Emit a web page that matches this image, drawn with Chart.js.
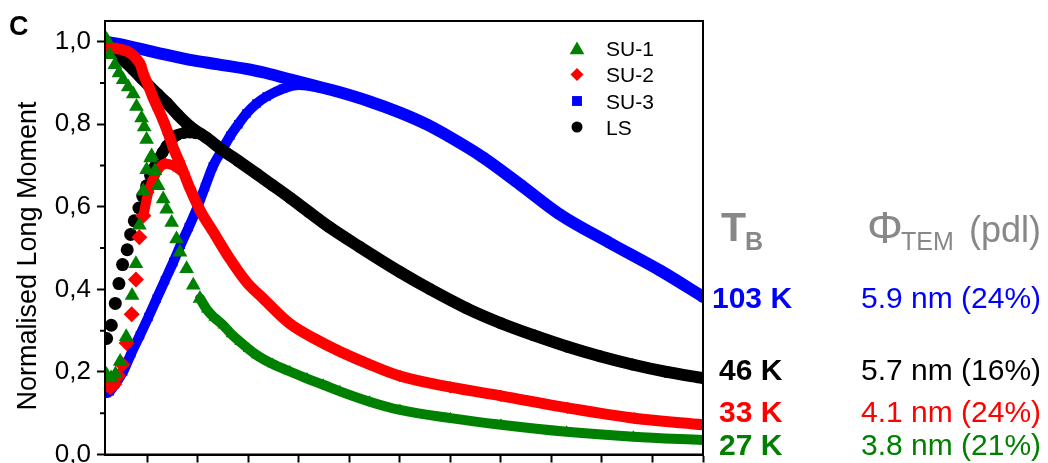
<!DOCTYPE html>
<html><head><meta charset="utf-8">
<script src="https://cdn.jsdelivr.net/npm/chart.js@4.4.1/dist/chart.umd.min.js"></script>
<style>
html,body{margin:0;padding:0;background:#fff;overflow:hidden;}
#wrap{position:relative;width:1048px;height:463px;overflow:hidden;}
canvas{position:absolute;left:0;top:0;}
.t{position:absolute;white-space:nowrap;line-height:1;font-family:"Liberation Sans",Arial,sans-serif;}
</style></head><body>
<div id="wrap"><canvas id="c" width="1048" height="463"></canvas></div>
<script>
// ---------------- data (T in K, normalised moment) ----------------
const seriesNames = ['SU-1', 'SU-2', 'SU-3', 'LS'];
const blockingT = ['103 K', '46 K', '33 K', '27 K'];
const temSizes = ['5.9 nm (24%)', '5.7 nm (16%)', '4.1 nm (24%)', '3.8 nm (21%)'];
const xTicks = [25, 50, 75, 100, 125, 150, 175, 200, 225, 250, 275, 300];
const yTicks = [0, 0.2, 0.4, 0.6, 0.8, 1.0];
const yMinorTicks = [0.1, 0.3, 0.5, 0.7, 0.9];

// LS (black circles)
const lsZfcLowT = [4.8, 7.1, 9.1, 10.9, 12.7, 15.0, 16.7, 18.5, 20.8, 22.7, 24.6, 26.6];
const lsZfcLowM = [0.281, 0.313, 0.366, 0.414, 0.460, 0.496, 0.533, 0.566, 0.597, 0.626, 0.651, 0.676];
const lsZfcT = [26.6, 28.6, 30.5, 32.5, 34.5, 37.0, 39.5, 43.0, 46.0, 49.0, 51.5];
const lsZfcM = [0.676, 0.697, 0.716, 0.732, 0.747, 0.762, 0.773, 0.779, 0.780, 0.778, 0.776];
const lsFcT = [4, 6.4, 10, 14, 18, 22, 26, 30, 34.5, 40, 46, 54, 62.5, 70, 79, 87, 95.5, 105, 115, 130, 150, 165, 183, 200, 216, 233, 249, 265, 282, 300];
const lsFcM = [1.000, 0.988, 0.970, 0.951, 0.932, 0.912, 0.892, 0.873, 0.852, 0.823, 0.795, 0.768, 0.736, 0.711, 0.680, 0.652, 0.622, 0.587, 0.551, 0.503, 0.442, 0.400, 0.354, 0.318, 0.289, 0.261, 0.238, 0.218, 0.200, 0.185];

// SU-2 (red diamonds)
const su2ZfcLowT = [4.8, 6.6, 8.6, 10.6, 12.6, 14.7, 17.2, 19.3, 21.0, 23.0];
const su2ZfcLowM = [0.170, 0.163, 0.170, 0.190, 0.218, 0.270, 0.340, 0.424, 0.526, 0.578];
const su2ZfcT = [23.0, 25.4, 27.9, 30.4, 33.7, 37.8, 42.0];
const su2ZfcM = [0.578, 0.635, 0.667, 0.691, 0.705, 0.700, 0.686];
const su2FcT = [4, 6.4, 10, 13, 15.5, 18, 20, 21.5, 23, 25.5, 28, 30.5, 33, 35.5, 38, 40.5, 43, 46, 51, 57.6, 65.8, 74, 82.3, 95.5, 108, 120, 135, 150, 175, 200, 233, 266, 300];
const su2FcM = [1.000, 0.988, 0.983, 0.980, 0.975, 0.967, 0.956, 0.945, 0.922, 0.893, 0.862, 0.835, 0.807, 0.775, 0.740, 0.712, 0.682, 0.645, 0.592, 0.539, 0.474, 0.418, 0.378, 0.317, 0.280, 0.250, 0.218, 0.190, 0.163, 0.142, 0.113, 0.088, 0.072];

// SU-1 (green triangles)
const su1ZfcLowT = [4.8, 7.0, 9.2, 11.5, 14.5, 17.4, 19.3, 21.0, 22.9, 24.6, 26.6];
const su1ZfcLowM = [0.193, 0.185, 0.195, 0.225, 0.285, 0.385, 0.462, 0.555, 0.638, 0.690, 0.718];
const su1FcLowT = [4.8, 6.4, 8.9, 10.9, 13.0, 15.5, 18.0, 19.6, 22.1, 23.4, 24.6, 27.1, 28.7, 30.3, 32.8, 34.5, 37.0, 39.4, 41.1, 44.4, 47.7, 51.0];
const su1FcLowM = [1.005, 0.968, 0.944, 0.924, 0.908, 0.890, 0.873, 0.843, 0.815, 0.793, 0.763, 0.723, 0.687, 0.651, 0.619, 0.594, 0.562, 0.522, 0.490, 0.450, 0.410, 0.378];
const su1FcT = [51.0, 54.3, 58.0, 62.5, 66.5, 70.8, 75.0, 79.0, 87.0, 95.5, 104, 112, 120.3, 135, 150, 175, 200, 232.5, 265.5, 300];
const su1FcM = [0.378, 0.352, 0.332, 0.313, 0.292, 0.273, 0.256, 0.241, 0.219, 0.201, 0.184, 0.169, 0.153, 0.128, 0.108, 0.088, 0.072, 0.055, 0.043, 0.035];

// SU-3 (blue squares)
const su3ZfcT = [4.8, 6.4, 9.0, 13.0, 17.0, 21.3, 25.5, 29.6, 33.7, 37.8, 41.5, 45.5, 49.4, 53.5, 57.4, 62.0, 66.0, 70.0, 74.0, 79.0, 84.0, 92.0, 100.0, 108.0];
const su3ZfcM = [0.149, 0.153, 0.170, 0.201, 0.245, 0.289, 0.333, 0.378, 0.422, 0.466, 0.508, 0.551, 0.595, 0.648, 0.698, 0.738, 0.772, 0.800, 0.826, 0.850, 0.867, 0.886, 0.895, 0.891];
const su3FcT = [4, 15, 30, 46, 60, 76, 86, 96, 108, 119, 135, 150, 163, 175, 191, 210, 229, 254, 279, 300];
const su3FcM = [1.000, 0.990, 0.973, 0.956, 0.945, 0.932, 0.921, 0.908, 0.893, 0.879, 0.855, 0.828, 0.800, 0.768, 0.720, 0.652, 0.582, 0.512, 0.445, 0.382];

// ---------------- styling ----------------
const GREEN = '#008000', RED = '#ff0000', BLUE = '#0000ff', BLACK = '#000000', GRAY = '#888888';
const FONT = '"Liberation Sans", Arial, sans-serif';
Chart.defaults.font.family = FONT;

function pts(T, M) { return T.map((t, i) => ({ x: t, y: M[i] })); }
function series(T, M, color, style, r, line, order) {
  return {
    type: 'line',
    data: pts(T, M), showLine: line > 0, borderColor: color, backgroundColor: color,
    borderWidth: line, pointStyle: style, pointRadius: r, pointHoverRadius: r,
    pointBorderWidth: 0, pointBackgroundColor: color, pointBorderColor: color,
    cubicInterpolationMode: 'monotone', borderCapStyle: 'round', borderJoinStyle: 'round',
    order: order, clip: 0, fill: false
  };
}

const datasets = [
  series(su1FcT, su1FcM, GREEN, 'triangle', 6.5, 10, 0),
  series(su1FcLowT, su1FcLowM, GREEN, 'triangle', 8.5, 0, 0),
  series(su1ZfcLowT, su1ZfcLowM, GREEN, 'triangle', 8.5, 0, 0),
  series(su2FcT, su2FcM, RED, 'rectRot', 6.2, 11, 1),
  series(su2ZfcT, su2ZfcM, RED, 'rectRot', 6.2, 10, 1),
  series(su2ZfcLowT, su2ZfcLowM, RED, 'rectRot', 8, 0, 1),
  series(lsFcT, lsFcM, BLACK, 'circle', 6, 12, 2),
  series(lsZfcT, lsZfcM, BLACK, 'circle', 6, 11, 2),
  series(lsZfcLowT, lsZfcLowM, BLACK, 'circle', 6.5, 0, 2),
  series(su3FcT, su3FcM, BLUE, 'rect', 6.3, 12, 3),
  series(su3ZfcT, su3ZfcM, BLUE, 'rect', 6, 10, 3)
];

const framePlugin = {
  id: 'frame',
  afterDraw(chart) {
    const ctx = chart.ctx, a = chart.chartArea;
    ctx.save();
    ctx.strokeStyle = '#000'; ctx.lineWidth = 2;
    ctx.beginPath();
    ctx.moveTo(a.left, a.bottom); ctx.lineTo(a.left, a.top); ctx.lineTo(a.right, a.top);
    ctx.lineTo(a.right, a.bottom); ctx.lineTo(a.left, a.bottom);
    ctx.stroke();
    const ys = chart.scales.y;
    ctx.beginPath();
    yMinorTicks.forEach(v => { const y = ys.getPixelForValue(v); ctx.moveTo(a.left - 5, y); ctx.lineTo(a.left, y); });
    ctx.stroke();
    ctx.restore();
    // legend
    const entries = [
      { style: 'triangle', r: 8.5, color: GREEN, y: 50, ty: 55.5 },
      { style: 'rectRot', r: 6.5, color: RED, y: 74.5, ty: 82 },
      { style: 'rect', r: 7, color: BLUE, y: 101, ty: 108.5 },
      { style: 'circle', r: 5.5, color: BLACK, y: 127, ty: 134.5 }
    ];
    entries.forEach((e, i) => {
      ctx.save();
      ctx.fillStyle = e.color; ctx.strokeStyle = e.color;
      Chart.helpers.drawPoint(ctx, { pointStyle: e.style, radius: e.r, rotation: 0, borderWidth: 0 }, 577, e.y);
      ctx.restore();
      ctx.save();
      ctx.fillStyle = '#000'; ctx.font = '21px ' + FONT; ctx.textBaseline = 'alphabetic'; ctx.textAlign = 'left';
      ctx.fillText(seriesNames[i], 606, e.ty);
      ctx.restore();
    });
  }
};

new Chart(document.getElementById('c'), {
  type: 'line',
  data: { datasets: datasets },
  options: {
    responsive: false, animation: false, devicePixelRatio: 1, events: [],
    layout: { padding: { left: 0, right: 345, top: 21, bottom: 0 } },
    plugins: { legend: { display: false }, tooltip: { enabled: false } },
    scales: {
      x: {
        type: 'linear', position: 'bottom', min: 4, max: 300,
        afterBuildTicks: s => { s.ticks = xTicks.map(v => ({ value: v })); },
        afterFit: s => { s.height = 6; s.paddingLeft = 0; s.paddingRight = 0; },
        ticks: { callback: () => '', padding: 0 },
        grid: { drawOnChartArea: false, drawTicks: true, tickLength: 8, tickWidth: 2, tickColor: '#000' },
        border: { display: true, color: '#000', width: 2 }
      },
      y: {
        type: 'linear', min: 0, max: 1.05,
        afterBuildTicks: s => { s.ticks = yTicks.map(v => ({ value: v })); },
        afterFit: s => { s.width = 105; s.paddingTop = 0; s.paddingBottom = 0; },
        ticks: { callback: v => Number(v).toFixed(1).replace('.', ','), font: { size: 26 }, color: '#000', padding: 6 },
        grid: { drawOnChartArea: false, drawTicks: true, tickLength: 8, tickWidth: 2, tickColor: '#000' },
        border: { display: true, color: '#000', width: 2 }
      }
    }
  },
  plugins: [framePlugin]
});

// ---------------- text overlays ----------------
const wrap = document.getElementById('wrap');
function place(text, x, baseline, size, bold, color) {
  const d = document.createElement('div');
  d.className = 't';
  d.textContent = text;
  d.style.left = x + 'px';
  d.style.top = (baseline - 0.8465 * size) + 'px';
  d.style.fontSize = size + 'px';
  d.style.fontWeight = bold ? 'bold' : 'normal';
  d.style.color = color;
  wrap.appendChild(d);
  return d;
}
place('C', 9, 36, 27, true, '#000');
const yt = document.createElement('div');
yt.className = 't';
yt.textContent = 'Normalised Long Moment';
yt.style.fontSize = '27px';
yt.style.left = '27px'; yt.style.top = '256px';
yt.style.transform = 'translate(-50%,-50%) rotate(-90deg)';
wrap.appendChild(yt);

place('T', 721, 242, 41, true, GRAY);
place('B', 745, 250, 25, true, GRAY);
place('Φ', 867, 243, 45, false, GRAY);
place('TEM', 901, 250, 25, false, GRAY);
place('(pdl)', 969, 242, 36, false, GRAY);

const rowColors = [BLUE, BLACK, RED, GREEN];
const rowBase = [308, 380, 422, 455];
const rowX = [712, 719, 719, 719];
blockingT.forEach((s, i) => place(s, rowX[i], rowBase[i], 30, true, rowColors[i]));
temSizes.forEach((s, i) => place(s, 861, rowBase[i], 30, false, rowColors[i]));
</script>
</body></html>
